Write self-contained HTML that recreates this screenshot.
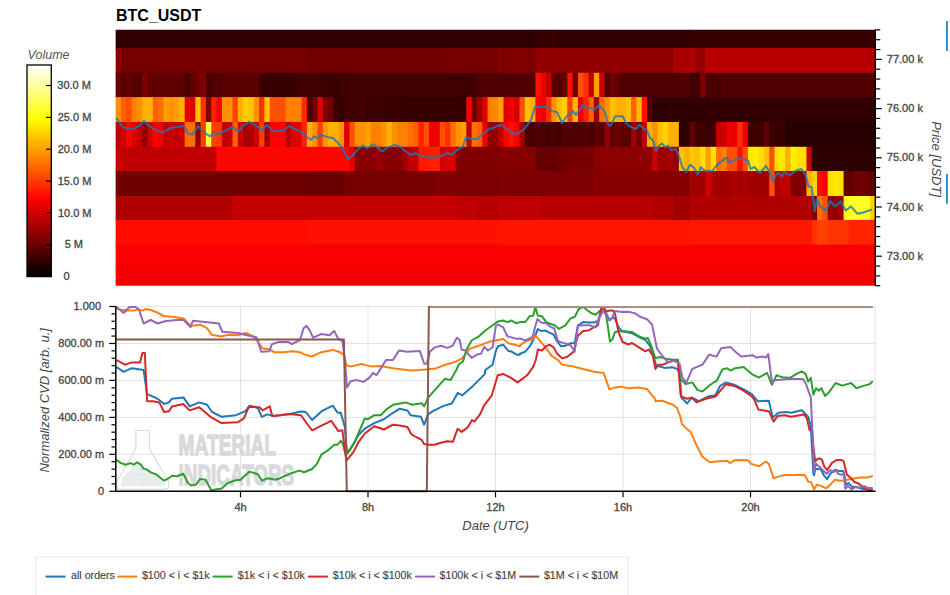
<!DOCTYPE html><html><head><meta charset="utf-8"><style>html,body{margin:0;padding:0;background:#fff;width:950px;height:595px;overflow:hidden}svg{display:block}text{font-family:"Liberation Sans",sans-serif}.lb{stroke:#444;stroke-width:0.3px}.lg{stroke:#444;stroke-width:0.15px}</style></head><body>
<svg width="950" height="595" viewBox="0 0 950 595">
<defs><linearGradient id="hot" x1="0" y1="1" x2="0" y2="0"><stop offset="0" stop-color="#000"/><stop offset="0.365" stop-color="#f00"/><stop offset="0.746" stop-color="#ff0"/><stop offset="1" stop-color="#fff"/></linearGradient>
<clipPath id="hc2"><rect x="115.1" y="29.5" width="760.2" height="256.2"/></clipPath><clipPath id="hc"><rect x="115.5" y="29.5" width="760" height="256.2"/></clipPath><clipPath id="pc"><rect x="115" y="306.1" width="760.3" height="187"/></clipPath></defs>
<text x="116" y="20.7" font-size="16" font-weight="bold" fill="#000">BTC_USDT</text>
<g clip-path="url(#hc2)">
<rect x="115.60" y="29.50" width="420.81" height="19.50" fill="#300000"/>
<rect x="535.41" y="29.50" width="22.26" height="19.50" fill="#380000"/>
<rect x="556.66" y="29.50" width="133.85" height="19.50" fill="#300000"/>
<rect x="689.51" y="29.50" width="186.99" height="19.50" fill="#380000"/>
<rect x="115.60" y="48.00" width="6.31" height="25.80" fill="#900000"/>
<rect x="120.91" y="48.00" width="186.99" height="25.80" fill="#760000"/>
<rect x="306.90" y="48.00" width="139.16" height="25.80" fill="#720000"/>
<rect x="445.07" y="48.00" width="54.14" height="25.80" fill="#780000"/>
<rect x="498.21" y="48.00" width="38.20" height="25.80" fill="#800000"/>
<rect x="535.41" y="48.00" width="139.16" height="25.80" fill="#900000"/>
<rect x="673.57" y="48.00" width="16.94" height="25.80" fill="#a80000"/>
<rect x="689.51" y="48.00" width="6.31" height="25.80" fill="#b00000"/>
<rect x="694.83" y="48.00" width="11.63" height="25.80" fill="#980000"/>
<rect x="705.45" y="48.00" width="171.05" height="25.80" fill="#b80000"/>
<rect x="115.60" y="72.80" width="6.31" height="25.30" fill="#680000"/>
<rect x="120.91" y="72.80" width="6.31" height="25.30" fill="#580000"/>
<rect x="126.23" y="72.80" width="6.31" height="25.30" fill="#600000"/>
<rect x="131.54" y="72.80" width="6.31" height="25.30" fill="#580000"/>
<rect x="136.86" y="72.80" width="6.31" height="25.30" fill="#500000"/>
<rect x="142.17" y="72.80" width="6.31" height="25.30" fill="#800000"/>
<rect x="147.48" y="72.80" width="38.20" height="25.30" fill="#600000"/>
<rect x="184.68" y="72.80" width="6.31" height="25.30" fill="#480000"/>
<rect x="190.00" y="72.80" width="6.31" height="25.30" fill="#600000"/>
<rect x="195.31" y="72.80" width="6.31" height="25.30" fill="#700000"/>
<rect x="200.62" y="72.80" width="6.31" height="25.30" fill="#800000"/>
<rect x="205.94" y="72.80" width="6.31" height="25.30" fill="#480000"/>
<rect x="211.25" y="72.80" width="11.63" height="25.30" fill="#500000"/>
<rect x="221.88" y="72.80" width="38.20" height="25.30" fill="#5a0000"/>
<rect x="259.08" y="72.80" width="38.20" height="25.30" fill="#380000"/>
<rect x="296.28" y="72.80" width="27.57" height="25.30" fill="#400000"/>
<rect x="322.85" y="72.80" width="16.94" height="25.30" fill="#380000"/>
<rect x="338.79" y="72.80" width="139.16" height="25.30" fill="#400000"/>
<rect x="476.95" y="72.80" width="59.45" height="25.30" fill="#500000"/>
<rect x="535.41" y="72.80" width="6.31" height="25.30" fill="#ff1000"/>
<rect x="540.72" y="72.80" width="6.31" height="25.30" fill="#ee0000"/>
<rect x="546.03" y="72.80" width="6.31" height="25.30" fill="#c00000"/>
<rect x="551.35" y="72.80" width="6.31" height="25.30" fill="#600000"/>
<rect x="556.66" y="72.80" width="6.31" height="25.30" fill="#500000"/>
<rect x="561.98" y="72.80" width="6.31" height="25.30" fill="#600000"/>
<rect x="567.29" y="72.80" width="6.31" height="25.30" fill="#ff1000"/>
<rect x="572.60" y="72.80" width="6.31" height="25.30" fill="#700000"/>
<rect x="577.92" y="72.80" width="6.31" height="25.30" fill="#ff5000"/>
<rect x="583.23" y="72.80" width="6.31" height="25.30" fill="#ff3000"/>
<rect x="588.55" y="72.80" width="6.31" height="25.30" fill="#c00000"/>
<rect x="593.86" y="72.80" width="6.31" height="25.30" fill="#ffa000"/>
<rect x="599.17" y="72.80" width="6.31" height="25.30" fill="#d00000"/>
<rect x="604.49" y="72.80" width="6.31" height="25.30" fill="#500000"/>
<rect x="609.80" y="72.80" width="6.31" height="25.30" fill="#700000"/>
<rect x="615.12" y="72.80" width="6.31" height="25.30" fill="#600000"/>
<rect x="620.43" y="72.80" width="70.08" height="25.30" fill="#500000"/>
<rect x="689.51" y="72.80" width="11.63" height="25.30" fill="#400000"/>
<rect x="700.14" y="72.80" width="6.31" height="25.30" fill="#800000"/>
<rect x="705.45" y="72.80" width="16.94" height="25.30" fill="#480000"/>
<rect x="721.40" y="72.80" width="155.11" height="25.30" fill="#500000"/>
<rect x="115.60" y="97.10" width="6.31" height="25.90" fill="#ff9000"/>
<rect x="120.91" y="97.10" width="6.31" height="25.90" fill="#ff6000"/>
<rect x="126.23" y="97.10" width="6.31" height="25.90" fill="#ff5000"/>
<rect x="131.54" y="97.10" width="6.31" height="25.90" fill="#ff8000"/>
<rect x="136.86" y="97.10" width="6.31" height="25.90" fill="#ff9000"/>
<rect x="142.17" y="97.10" width="11.63" height="25.90" fill="#ffb000"/>
<rect x="152.80" y="97.10" width="6.31" height="25.90" fill="#ff6000"/>
<rect x="158.11" y="97.10" width="6.31" height="25.90" fill="#ff7000"/>
<rect x="163.43" y="97.10" width="6.31" height="25.90" fill="#ffa000"/>
<rect x="168.74" y="97.10" width="6.31" height="25.90" fill="#ff9000"/>
<rect x="174.05" y="97.10" width="6.31" height="25.90" fill="#ffa000"/>
<rect x="179.37" y="97.10" width="6.31" height="25.90" fill="#ffb000"/>
<rect x="184.68" y="97.10" width="6.31" height="25.90" fill="#e80000"/>
<rect x="190.00" y="97.10" width="6.31" height="25.90" fill="#e00000"/>
<rect x="195.31" y="97.10" width="6.31" height="25.90" fill="#ffc000"/>
<rect x="200.62" y="97.10" width="6.31" height="25.90" fill="#ff3000"/>
<rect x="205.94" y="97.10" width="6.31" height="25.90" fill="#800000"/>
<rect x="211.25" y="97.10" width="6.31" height="25.90" fill="#ff2000"/>
<rect x="216.57" y="97.10" width="6.31" height="25.90" fill="#f00000"/>
<rect x="221.88" y="97.10" width="11.63" height="25.90" fill="#ff9000"/>
<rect x="232.51" y="97.10" width="6.31" height="25.90" fill="#ff4000"/>
<rect x="237.82" y="97.10" width="6.31" height="25.90" fill="#ffb000"/>
<rect x="243.14" y="97.10" width="6.31" height="25.90" fill="#ffd000"/>
<rect x="248.45" y="97.10" width="6.31" height="25.90" fill="#ffc000"/>
<rect x="253.76" y="97.10" width="6.31" height="25.90" fill="#ff9000"/>
<rect x="259.08" y="97.10" width="6.31" height="25.90" fill="#ff3000"/>
<rect x="264.39" y="97.10" width="6.31" height="25.90" fill="#ffc000"/>
<rect x="269.71" y="97.10" width="16.94" height="25.90" fill="#ff5000"/>
<rect x="285.65" y="97.10" width="16.94" height="25.90" fill="#ff8000"/>
<rect x="301.59" y="97.10" width="6.31" height="25.90" fill="#ff2800"/>
<rect x="306.90" y="97.10" width="6.31" height="25.90" fill="#500000"/>
<rect x="312.22" y="97.10" width="6.31" height="25.90" fill="#700000"/>
<rect x="317.53" y="97.10" width="6.31" height="25.90" fill="#e00000"/>
<rect x="322.85" y="97.10" width="6.31" height="25.90" fill="#800000"/>
<rect x="328.16" y="97.10" width="6.31" height="25.90" fill="#700000"/>
<rect x="333.47" y="97.10" width="6.31" height="25.90" fill="#3c0000"/>
<rect x="338.79" y="97.10" width="6.31" height="25.90" fill="#380000"/>
<rect x="344.10" y="97.10" width="11.63" height="25.90" fill="#420000"/>
<rect x="354.73" y="97.10" width="6.31" height="25.90" fill="#3c0000"/>
<rect x="360.04" y="97.10" width="6.31" height="25.90" fill="#480000"/>
<rect x="365.36" y="97.10" width="22.26" height="25.90" fill="#3c0000"/>
<rect x="386.61" y="97.10" width="16.94" height="25.90" fill="#3a0000"/>
<rect x="402.56" y="97.10" width="54.14" height="25.90" fill="#360000"/>
<rect x="455.70" y="97.10" width="11.63" height="25.90" fill="#3a0000"/>
<rect x="466.32" y="97.10" width="6.31" height="25.90" fill="#ff0000"/>
<rect x="471.64" y="97.10" width="6.31" height="25.90" fill="#700000"/>
<rect x="476.95" y="97.10" width="6.31" height="25.90" fill="#a00000"/>
<rect x="482.27" y="97.10" width="6.31" height="25.90" fill="#e00000"/>
<rect x="487.58" y="97.10" width="6.31" height="25.90" fill="#ff8000"/>
<rect x="492.89" y="97.10" width="6.31" height="25.90" fill="#ff8800"/>
<rect x="498.21" y="97.10" width="6.31" height="25.90" fill="#ffa000"/>
<rect x="503.52" y="97.10" width="6.31" height="25.90" fill="#e00000"/>
<rect x="508.84" y="97.10" width="6.31" height="25.90" fill="#f00000"/>
<rect x="514.15" y="97.10" width="6.31" height="25.90" fill="#d00000"/>
<rect x="519.46" y="97.10" width="6.31" height="25.90" fill="#ff5000"/>
<rect x="524.78" y="97.10" width="6.31" height="25.90" fill="#ffc000"/>
<rect x="530.09" y="97.10" width="6.31" height="25.90" fill="#ffb000"/>
<rect x="535.41" y="97.10" width="6.31" height="25.90" fill="#ff0000"/>
<rect x="540.72" y="97.10" width="6.31" height="25.90" fill="#f00000"/>
<rect x="546.03" y="97.10" width="6.31" height="25.90" fill="#ff3000"/>
<rect x="551.35" y="97.10" width="6.31" height="25.90" fill="#ff9000"/>
<rect x="556.66" y="97.10" width="6.31" height="25.90" fill="#ffc000"/>
<rect x="561.98" y="97.10" width="6.31" height="25.90" fill="#ffd000"/>
<rect x="567.29" y="97.10" width="6.31" height="25.90" fill="#ff4000"/>
<rect x="572.60" y="97.10" width="6.31" height="25.90" fill="#ffb800"/>
<rect x="577.92" y="97.10" width="6.31" height="25.90" fill="#e80000"/>
<rect x="583.23" y="97.10" width="6.31" height="25.90" fill="#ff2000"/>
<rect x="588.55" y="97.10" width="6.31" height="25.90" fill="#ff6000"/>
<rect x="593.86" y="97.10" width="6.31" height="25.90" fill="#a00000"/>
<rect x="599.17" y="97.10" width="6.31" height="25.90" fill="#ff7000"/>
<rect x="604.49" y="97.10" width="6.31" height="25.90" fill="#ff9000"/>
<rect x="609.80" y="97.10" width="6.31" height="25.90" fill="#ffc000"/>
<rect x="615.12" y="97.10" width="11.63" height="25.90" fill="#ffb000"/>
<rect x="625.74" y="97.10" width="6.31" height="25.90" fill="#ffc000"/>
<rect x="631.06" y="97.10" width="6.31" height="25.90" fill="#ff6000"/>
<rect x="636.37" y="97.10" width="6.31" height="25.90" fill="#ffb800"/>
<rect x="641.69" y="97.10" width="6.31" height="25.90" fill="#ff1000"/>
<rect x="647.00" y="97.10" width="6.31" height="25.90" fill="#500000"/>
<rect x="652.31" y="97.10" width="16.94" height="25.90" fill="#300000"/>
<rect x="668.26" y="97.10" width="6.31" height="25.90" fill="#380000"/>
<rect x="673.57" y="97.10" width="16.94" height="25.90" fill="#300000"/>
<rect x="689.51" y="97.10" width="186.99" height="25.90" fill="#330000"/>
<rect x="115.60" y="122.00" width="6.31" height="25.80" fill="#c00000"/>
<rect x="120.91" y="122.00" width="6.31" height="25.80" fill="#d00000"/>
<rect x="126.23" y="122.00" width="6.31" height="25.80" fill="#ff0000"/>
<rect x="131.54" y="122.00" width="6.31" height="25.80" fill="#e00000"/>
<rect x="136.86" y="122.00" width="6.31" height="25.80" fill="#c00000"/>
<rect x="142.17" y="122.00" width="6.31" height="25.80" fill="#900000"/>
<rect x="147.48" y="122.00" width="6.31" height="25.80" fill="#d00000"/>
<rect x="152.80" y="122.00" width="6.31" height="25.80" fill="#ff0000"/>
<rect x="158.11" y="122.00" width="6.31" height="25.80" fill="#f00000"/>
<rect x="163.43" y="122.00" width="6.31" height="25.80" fill="#c00000"/>
<rect x="168.74" y="122.00" width="6.31" height="25.80" fill="#d00000"/>
<rect x="174.05" y="122.00" width="6.31" height="25.80" fill="#c00000"/>
<rect x="179.37" y="122.00" width="6.31" height="25.80" fill="#d00000"/>
<rect x="184.68" y="122.00" width="11.63" height="25.80" fill="#ff7000"/>
<rect x="195.31" y="122.00" width="6.31" height="25.80" fill="#900000"/>
<rect x="200.62" y="122.00" width="6.31" height="25.80" fill="#ff4000"/>
<rect x="205.94" y="122.00" width="6.31" height="25.80" fill="#ffff40"/>
<rect x="211.25" y="122.00" width="6.31" height="25.80" fill="#ff4000"/>
<rect x="216.57" y="122.00" width="6.31" height="25.80" fill="#ff3800"/>
<rect x="221.88" y="122.00" width="6.31" height="25.80" fill="#c00000"/>
<rect x="227.19" y="122.00" width="6.31" height="25.80" fill="#c80000"/>
<rect x="232.51" y="122.00" width="6.31" height="25.80" fill="#ff6000"/>
<rect x="237.82" y="122.00" width="6.31" height="25.80" fill="#d00000"/>
<rect x="243.14" y="122.00" width="11.63" height="25.80" fill="#a80000"/>
<rect x="253.76" y="122.00" width="6.31" height="25.80" fill="#d00000"/>
<rect x="259.08" y="122.00" width="6.31" height="25.80" fill="#ff4000"/>
<rect x="264.39" y="122.00" width="6.31" height="25.80" fill="#a00000"/>
<rect x="269.71" y="122.00" width="16.94" height="25.80" fill="#ff0000"/>
<rect x="285.65" y="122.00" width="6.31" height="25.80" fill="#b00000"/>
<rect x="290.96" y="122.00" width="11.63" height="25.80" fill="#e00000"/>
<rect x="301.59" y="122.00" width="6.31" height="25.80" fill="#ff2000"/>
<rect x="306.90" y="122.00" width="6.31" height="25.80" fill="#ffb000"/>
<rect x="312.22" y="122.00" width="6.31" height="25.80" fill="#ff9000"/>
<rect x="317.53" y="122.00" width="6.31" height="25.80" fill="#ff4000"/>
<rect x="322.85" y="122.00" width="6.31" height="25.80" fill="#ff9800"/>
<rect x="328.16" y="122.00" width="11.63" height="25.80" fill="#ffb000"/>
<rect x="338.79" y="122.00" width="6.31" height="25.80" fill="#ff9000"/>
<rect x="344.10" y="122.00" width="6.31" height="25.80" fill="#e00000"/>
<rect x="349.42" y="122.00" width="6.31" height="25.80" fill="#ff5000"/>
<rect x="354.73" y="122.00" width="11.63" height="25.80" fill="#ff9000"/>
<rect x="365.36" y="122.00" width="6.31" height="25.80" fill="#ffa000"/>
<rect x="370.67" y="122.00" width="11.63" height="25.80" fill="#ff8000"/>
<rect x="381.30" y="122.00" width="6.31" height="25.80" fill="#ff9000"/>
<rect x="386.61" y="122.00" width="6.31" height="25.80" fill="#ffb000"/>
<rect x="391.93" y="122.00" width="6.31" height="25.80" fill="#ff9000"/>
<rect x="397.24" y="122.00" width="11.63" height="25.80" fill="#ff8000"/>
<rect x="407.87" y="122.00" width="6.31" height="25.80" fill="#ff7000"/>
<rect x="413.18" y="122.00" width="6.31" height="25.80" fill="#ff6000"/>
<rect x="418.50" y="122.00" width="6.31" height="25.80" fill="#ff2000"/>
<rect x="423.81" y="122.00" width="6.31" height="25.80" fill="#ff5000"/>
<rect x="429.13" y="122.00" width="11.63" height="25.80" fill="#ee0000"/>
<rect x="439.75" y="122.00" width="6.31" height="25.80" fill="#ff5000"/>
<rect x="445.07" y="122.00" width="6.31" height="25.80" fill="#ff3000"/>
<rect x="450.38" y="122.00" width="6.31" height="25.80" fill="#ff7000"/>
<rect x="455.70" y="122.00" width="6.31" height="25.80" fill="#ff9000"/>
<rect x="461.01" y="122.00" width="6.31" height="25.80" fill="#ffa000"/>
<rect x="466.32" y="122.00" width="6.31" height="25.80" fill="#c00000"/>
<rect x="471.64" y="122.00" width="6.31" height="25.80" fill="#ff7000"/>
<rect x="476.95" y="122.00" width="6.31" height="25.80" fill="#ff6000"/>
<rect x="482.27" y="122.00" width="6.31" height="25.80" fill="#ee0000"/>
<rect x="487.58" y="122.00" width="11.63" height="25.80" fill="#900000"/>
<rect x="498.21" y="122.00" width="6.31" height="25.80" fill="#c00000"/>
<rect x="503.52" y="122.00" width="6.31" height="25.80" fill="#ff0000"/>
<rect x="508.84" y="122.00" width="6.31" height="25.80" fill="#ff1000"/>
<rect x="514.15" y="122.00" width="6.31" height="25.80" fill="#ff0000"/>
<rect x="519.46" y="122.00" width="6.31" height="25.80" fill="#a00000"/>
<rect x="524.78" y="122.00" width="6.31" height="25.80" fill="#4c0000"/>
<rect x="530.09" y="122.00" width="6.31" height="25.80" fill="#440000"/>
<rect x="535.41" y="122.00" width="11.63" height="25.80" fill="#4c0000"/>
<rect x="546.03" y="122.00" width="6.31" height="25.80" fill="#440000"/>
<rect x="551.35" y="122.00" width="6.31" height="25.80" fill="#4c0000"/>
<rect x="556.66" y="122.00" width="6.31" height="25.80" fill="#460000"/>
<rect x="561.98" y="122.00" width="6.31" height="25.80" fill="#540000"/>
<rect x="567.29" y="122.00" width="16.94" height="25.80" fill="#4c0000"/>
<rect x="583.23" y="122.00" width="6.31" height="25.80" fill="#540000"/>
<rect x="588.55" y="122.00" width="6.31" height="25.80" fill="#4c0000"/>
<rect x="593.86" y="122.00" width="6.31" height="25.80" fill="#5c0000"/>
<rect x="599.17" y="122.00" width="6.31" height="25.80" fill="#540000"/>
<rect x="604.49" y="122.00" width="6.31" height="25.80" fill="#900000"/>
<rect x="609.80" y="122.00" width="6.31" height="25.80" fill="#5c0000"/>
<rect x="615.12" y="122.00" width="6.31" height="25.80" fill="#6c0000"/>
<rect x="620.43" y="122.00" width="11.63" height="25.80" fill="#5c0000"/>
<rect x="631.06" y="122.00" width="6.31" height="25.80" fill="#a00000"/>
<rect x="636.37" y="122.00" width="6.31" height="25.80" fill="#700000"/>
<rect x="641.69" y="122.00" width="6.31" height="25.80" fill="#c00000"/>
<rect x="647.00" y="122.00" width="6.31" height="25.80" fill="#ffb000"/>
<rect x="652.31" y="122.00" width="6.31" height="25.80" fill="#ff9000"/>
<rect x="657.63" y="122.00" width="6.31" height="25.80" fill="#ffc000"/>
<rect x="662.94" y="122.00" width="6.31" height="25.80" fill="#ffd000"/>
<rect x="668.26" y="122.00" width="11.63" height="25.80" fill="#ffb000"/>
<rect x="678.88" y="122.00" width="11.63" height="25.80" fill="#300000"/>
<rect x="689.51" y="122.00" width="6.31" height="25.80" fill="#600000"/>
<rect x="694.83" y="122.00" width="11.63" height="25.80" fill="#400000"/>
<rect x="705.45" y="122.00" width="6.31" height="25.80" fill="#380000"/>
<rect x="710.77" y="122.00" width="6.31" height="25.80" fill="#400000"/>
<rect x="716.08" y="122.00" width="11.63" height="25.80" fill="#c80000"/>
<rect x="726.71" y="122.00" width="6.31" height="25.80" fill="#f00000"/>
<rect x="732.02" y="122.00" width="6.31" height="25.80" fill="#e80000"/>
<rect x="737.34" y="122.00" width="6.31" height="25.80" fill="#ff3000"/>
<rect x="742.65" y="122.00" width="6.31" height="25.80" fill="#f00000"/>
<rect x="747.97" y="122.00" width="16.94" height="25.80" fill="#400000"/>
<rect x="763.91" y="122.00" width="6.31" height="25.80" fill="#600000"/>
<rect x="769.22" y="122.00" width="16.94" height="25.80" fill="#3a0000"/>
<rect x="785.16" y="122.00" width="91.34" height="25.80" fill="#260000"/>
<rect x="115.60" y="146.80" width="6.31" height="25.20" fill="#d00000"/>
<rect x="120.91" y="146.80" width="96.65" height="25.20" fill="#c00000"/>
<rect x="216.57" y="146.80" width="133.85" height="25.20" fill="#fa0800"/>
<rect x="349.42" y="146.80" width="6.31" height="25.20" fill="#e00000"/>
<rect x="354.73" y="146.80" width="22.26" height="25.20" fill="#880000"/>
<rect x="375.99" y="146.80" width="6.31" height="25.20" fill="#9a0000"/>
<rect x="381.30" y="146.80" width="22.26" height="25.20" fill="#880000"/>
<rect x="402.56" y="146.80" width="6.31" height="25.20" fill="#a00000"/>
<rect x="407.87" y="146.80" width="11.63" height="25.20" fill="#c00000"/>
<rect x="418.50" y="146.80" width="11.63" height="25.20" fill="#ff1800"/>
<rect x="429.13" y="146.80" width="11.63" height="25.20" fill="#ff2000"/>
<rect x="439.75" y="146.80" width="6.31" height="25.20" fill="#d00000"/>
<rect x="445.07" y="146.80" width="11.63" height="25.20" fill="#d80000"/>
<rect x="455.70" y="146.80" width="6.31" height="25.20" fill="#880000"/>
<rect x="461.01" y="146.80" width="38.20" height="25.20" fill="#800000"/>
<rect x="498.21" y="146.80" width="38.20" height="25.20" fill="#860000"/>
<rect x="535.41" y="146.80" width="22.26" height="25.20" fill="#660000"/>
<rect x="556.66" y="146.80" width="11.63" height="25.20" fill="#700000"/>
<rect x="567.29" y="146.80" width="27.57" height="25.20" fill="#780000"/>
<rect x="593.86" y="146.80" width="54.14" height="25.20" fill="#8c0000"/>
<rect x="647.00" y="146.80" width="6.31" height="25.20" fill="#900000"/>
<rect x="652.31" y="146.80" width="6.31" height="25.20" fill="#c80000"/>
<rect x="657.63" y="146.80" width="11.63" height="25.20" fill="#a00000"/>
<rect x="668.26" y="146.80" width="6.31" height="25.20" fill="#a80000"/>
<rect x="673.57" y="146.80" width="6.31" height="25.20" fill="#900000"/>
<rect x="678.88" y="146.80" width="6.31" height="25.20" fill="#ffc000"/>
<rect x="684.20" y="146.80" width="6.31" height="25.20" fill="#ffb000"/>
<rect x="689.51" y="146.80" width="6.31" height="25.20" fill="#ffc800"/>
<rect x="694.83" y="146.80" width="6.31" height="25.20" fill="#ffc000"/>
<rect x="700.14" y="146.80" width="6.31" height="25.20" fill="#ffe000"/>
<rect x="705.45" y="146.80" width="6.31" height="25.20" fill="#ffa000"/>
<rect x="710.77" y="146.80" width="6.31" height="25.20" fill="#ffe000"/>
<rect x="716.08" y="146.80" width="6.31" height="25.20" fill="#ff7000"/>
<rect x="721.40" y="146.80" width="6.31" height="25.20" fill="#ff8000"/>
<rect x="726.71" y="146.80" width="11.63" height="25.20" fill="#ff5000"/>
<rect x="737.34" y="146.80" width="6.31" height="25.20" fill="#ff1000"/>
<rect x="742.65" y="146.80" width="6.31" height="25.20" fill="#ff5000"/>
<rect x="747.97" y="146.80" width="6.31" height="25.20" fill="#ffe800"/>
<rect x="753.28" y="146.80" width="6.31" height="25.20" fill="#fff000"/>
<rect x="758.59" y="146.80" width="6.31" height="25.20" fill="#ffe000"/>
<rect x="763.91" y="146.80" width="6.31" height="25.20" fill="#ffc000"/>
<rect x="769.22" y="146.80" width="6.31" height="25.20" fill="#ff5000"/>
<rect x="774.54" y="146.80" width="6.31" height="25.20" fill="#ffe000"/>
<rect x="779.85" y="146.80" width="6.31" height="25.20" fill="#ffe800"/>
<rect x="785.16" y="146.80" width="6.31" height="25.20" fill="#ffb000"/>
<rect x="790.48" y="146.80" width="6.31" height="25.20" fill="#fff000"/>
<rect x="795.79" y="146.80" width="11.63" height="25.20" fill="#ffe000"/>
<rect x="806.42" y="146.80" width="6.31" height="25.20" fill="#d00000"/>
<rect x="811.73" y="146.80" width="64.77" height="25.20" fill="#2c0000"/>
<rect x="115.60" y="171.00" width="6.31" height="26.00" fill="#780000"/>
<rect x="120.91" y="171.00" width="186.99" height="26.00" fill="#700000"/>
<rect x="306.90" y="171.00" width="38.20" height="26.00" fill="#680000"/>
<rect x="344.10" y="171.00" width="91.34" height="26.00" fill="#780000"/>
<rect x="434.44" y="171.00" width="64.77" height="26.00" fill="#7c0000"/>
<rect x="498.21" y="171.00" width="96.65" height="26.00" fill="#7e0000"/>
<rect x="593.86" y="171.00" width="96.65" height="26.00" fill="#860000"/>
<rect x="689.51" y="171.00" width="16.94" height="26.00" fill="#a00000"/>
<rect x="705.45" y="171.00" width="6.31" height="26.00" fill="#d00000"/>
<rect x="710.77" y="171.00" width="6.31" height="26.00" fill="#b00000"/>
<rect x="716.08" y="171.00" width="16.94" height="26.00" fill="#a00000"/>
<rect x="732.02" y="171.00" width="6.31" height="26.00" fill="#b00000"/>
<rect x="737.34" y="171.00" width="6.31" height="26.00" fill="#a00000"/>
<rect x="742.65" y="171.00" width="6.31" height="26.00" fill="#b00000"/>
<rect x="747.97" y="171.00" width="22.26" height="26.00" fill="#a00000"/>
<rect x="769.22" y="171.00" width="6.31" height="26.00" fill="#ff5000"/>
<rect x="774.54" y="171.00" width="6.31" height="26.00" fill="#b00000"/>
<rect x="779.85" y="171.00" width="11.63" height="26.00" fill="#c00000"/>
<rect x="790.48" y="171.00" width="16.94" height="26.00" fill="#800000"/>
<rect x="806.42" y="171.00" width="6.31" height="26.00" fill="#ffb000"/>
<rect x="811.73" y="171.00" width="6.31" height="26.00" fill="#ffd000"/>
<rect x="817.05" y="171.00" width="6.31" height="26.00" fill="#ff1000"/>
<rect x="822.36" y="171.00" width="6.31" height="26.00" fill="#ff0000"/>
<rect x="827.68" y="171.00" width="6.31" height="26.00" fill="#ffe000"/>
<rect x="832.99" y="171.00" width="6.31" height="26.00" fill="#ffe800"/>
<rect x="838.30" y="171.00" width="6.31" height="26.00" fill="#ffe000"/>
<rect x="843.62" y="171.00" width="6.31" height="26.00" fill="#5a0000"/>
<rect x="848.93" y="171.00" width="6.31" height="26.00" fill="#600000"/>
<rect x="854.25" y="171.00" width="11.63" height="26.00" fill="#700000"/>
<rect x="864.87" y="171.00" width="6.31" height="26.00" fill="#680000"/>
<rect x="870.19" y="171.00" width="6.31" height="26.00" fill="#600000"/>
<rect x="115.60" y="196.00" width="117.91" height="24.90" fill="#b00000"/>
<rect x="232.51" y="196.00" width="224.19" height="24.90" fill="#c40000"/>
<rect x="455.70" y="196.00" width="22.26" height="24.90" fill="#c00000"/>
<rect x="476.95" y="196.00" width="22.26" height="24.90" fill="#b80000"/>
<rect x="498.21" y="196.00" width="43.51" height="24.90" fill="#c00000"/>
<rect x="540.72" y="196.00" width="112.59" height="24.90" fill="#b80000"/>
<rect x="652.31" y="196.00" width="22.26" height="24.90" fill="#b00000"/>
<rect x="673.57" y="196.00" width="16.94" height="24.90" fill="#a00000"/>
<rect x="689.51" y="196.00" width="123.22" height="24.90" fill="#b00000"/>
<rect x="811.73" y="196.00" width="6.31" height="24.90" fill="#800000"/>
<rect x="817.05" y="196.00" width="6.31" height="24.90" fill="#ff7000"/>
<rect x="822.36" y="196.00" width="6.31" height="24.90" fill="#ff5000"/>
<rect x="827.68" y="196.00" width="11.63" height="24.90" fill="#900000"/>
<rect x="838.30" y="196.00" width="6.31" height="24.90" fill="#a00000"/>
<rect x="843.62" y="196.00" width="27.57" height="24.90" fill="#ffff20"/>
<rect x="870.19" y="196.00" width="6.31" height="24.90" fill="#ffd000"/>
<rect x="115.60" y="219.90" width="192.30" height="25.70" fill="#ff0c00"/>
<rect x="306.90" y="219.90" width="192.30" height="25.70" fill="#ff1000"/>
<rect x="498.21" y="219.90" width="192.30" height="25.70" fill="#ff1400"/>
<rect x="689.51" y="219.90" width="123.22" height="25.70" fill="#ff1800"/>
<rect x="811.73" y="219.90" width="6.31" height="25.70" fill="#ff3000"/>
<rect x="817.05" y="219.90" width="11.63" height="25.70" fill="#ff4000"/>
<rect x="827.68" y="219.90" width="22.26" height="25.70" fill="#ff3400"/>
<rect x="848.93" y="219.90" width="27.57" height="25.70" fill="#ff2400"/>
<rect x="115.60" y="244.60" width="760.90" height="25.60" fill="#fa0000"/>
<rect x="115.60" y="269.20" width="760.90" height="17.50" fill="#f40000"/>
</g>
<polyline clip-path="url(#hc)" points="116.0,117.6 121.0,125.0 125.0,128.0 133.0,129.0 139.0,126.0 144.0,121.0 148.0,125.0 155.0,130.0 163.0,132.4 171.0,128.0 177.0,127.0 184.0,126.0 188.0,134.0 193.0,134.4 198.0,126.0 202.0,130.4 205.0,133.0 210.0,136.4 214.0,132.0 217.0,134.4 225.0,131.0 233.0,127.0 238.0,131.6 243.0,126.0 249.0,121.6 255.0,125.0 262.0,130.4 267.0,125.0 273.0,131.0 283.0,131.0 289.0,126.0 296.0,129.6 303.0,133.0 307.0,137.0 311.0,140.0 314.0,136.4 317.0,138.0 321.0,135.0 327.0,137.0 333.0,138.0 338.0,143.0 343.0,149.0 348.0,159.0 353.0,155.0 358.0,149.0 363.0,145.6 367.0,148.4 373.0,144.4 377.0,147.0 382.0,151.6 387.0,147.6 395.0,145.0 401.0,147.0 405.0,151.0 411.0,155.0 415.0,153.0 423.0,157.0 431.0,157.6 439.0,157.0 447.0,153.0 452.0,154.4 457.0,150.0 463.0,146.4 466.0,137.0 471.0,139.0 477.0,139.0 483.0,134.0 489.0,129.0 493.0,128.0 497.0,126.0 502.0,125.0 509.0,131.0 515.0,134.0 519.0,133.0 525.0,128.0 531.0,120.0 535.0,107.0 541.0,107.0 547.0,107.0 551.0,111.0 557.0,112.0 562.0,123.0 567.0,116.0 573.0,111.0 576.0,115.0 583.0,105.0 587.0,108.0 591.0,108.0 594.0,110.0 599.0,105.0 600.0,106.3 603.0,109.4 605.3,113.2 607.6,123.0 609.8,126.0 612.1,123.0 615.1,116.2 618.9,116.2 622.7,116.2 625.7,123.0 630.3,126.8 636.3,129.0 639.3,124.5 643.9,129.0 646.9,129.8 649.9,138.1 653.0,140.4 656.0,151.0 659.0,145.7 662.0,143.4 665.1,147.2 668.1,145.7 671.1,150.2 675.6,148.7 678.7,155.5 682.5,167.6 686.2,172.2 690.0,164.6 693.8,167.6 697.6,174.4 700.0,170.6 700.6,167.0 703.7,170.1 706.8,171.1 712.0,171.1 717.2,164.9 722.4,160.7 726.5,157.6 729.7,162.8 734.8,159.7 741.1,158.7 745.2,159.7 748.3,160.7 750.4,169.0 754.5,167.0 759.7,173.2 766.0,165.9 770.1,173.2 773.2,181.5 775.3,175.3 778.4,173.2 781.5,176.3 784.6,172.1 789.8,175.3 795.0,171.1 801.2,169.0 805.4,174.2 808.5,186.7 811.6,186.7 814.7,211.5 816.8,199.1 819.9,206.4 826.1,210.5 830.2,201.2 835.4,206.4 840.6,201.2 845.8,210.5 851.0,206.4 857.2,213.6 863.4,212.6 872.1,209.5" fill="none" stroke="rgba(31,119,180,0.8)" stroke-width="2.1" stroke-linejoin="round"/>
<g stroke="#000">
<line x1="875.3" y1="29.5" x2="875.3" y2="285.7" stroke-width="1.4"/>
<line x1="875.3" y1="285.72" x2="880.30" y2="285.72" stroke-width="1.2"/>
<line x1="875.3" y1="275.88" x2="880.30" y2="275.88" stroke-width="1.2"/>
<line x1="875.3" y1="266.04" x2="880.30" y2="266.04" stroke-width="1.2"/>
<line x1="875.3" y1="256.20" x2="881.80" y2="256.20" stroke-width="1.2"/>
<line x1="875.3" y1="246.36" x2="880.30" y2="246.36" stroke-width="1.2"/>
<line x1="875.3" y1="236.52" x2="880.30" y2="236.52" stroke-width="1.2"/>
<line x1="875.3" y1="226.68" x2="880.30" y2="226.68" stroke-width="1.2"/>
<line x1="875.3" y1="216.84" x2="880.30" y2="216.84" stroke-width="1.2"/>
<line x1="875.3" y1="207.00" x2="881.80" y2="207.00" stroke-width="1.2"/>
<line x1="875.3" y1="197.16" x2="880.30" y2="197.16" stroke-width="1.2"/>
<line x1="875.3" y1="187.32" x2="880.30" y2="187.32" stroke-width="1.2"/>
<line x1="875.3" y1="177.48" x2="880.30" y2="177.48" stroke-width="1.2"/>
<line x1="875.3" y1="167.64" x2="880.30" y2="167.64" stroke-width="1.2"/>
<line x1="875.3" y1="157.80" x2="881.80" y2="157.80" stroke-width="1.2"/>
<line x1="875.3" y1="147.96" x2="880.30" y2="147.96" stroke-width="1.2"/>
<line x1="875.3" y1="138.12" x2="880.30" y2="138.12" stroke-width="1.2"/>
<line x1="875.3" y1="128.28" x2="880.30" y2="128.28" stroke-width="1.2"/>
<line x1="875.3" y1="118.44" x2="880.30" y2="118.44" stroke-width="1.2"/>
<line x1="875.3" y1="108.60" x2="881.80" y2="108.60" stroke-width="1.2"/>
<line x1="875.3" y1="98.76" x2="880.30" y2="98.76" stroke-width="1.2"/>
<line x1="875.3" y1="88.92" x2="880.30" y2="88.92" stroke-width="1.2"/>
<line x1="875.3" y1="79.08" x2="880.30" y2="79.08" stroke-width="1.2"/>
<line x1="875.3" y1="69.24" x2="880.30" y2="69.24" stroke-width="1.2"/>
<line x1="875.3" y1="59.40" x2="881.80" y2="59.40" stroke-width="1.2"/>
<line x1="875.3" y1="49.56" x2="880.30" y2="49.56" stroke-width="1.2"/>
<line x1="875.3" y1="39.72" x2="880.30" y2="39.72" stroke-width="1.2"/>
<line x1="875.3" y1="29.88" x2="880.30" y2="29.88" stroke-width="1.2"/>
</g>
<text class="lb" x="886.8" y="63.0" font-size="11" fill="#444">77.00 k</text>
<text class="lb" x="886.8" y="112.2" font-size="11" fill="#444">76.00 k</text>
<text class="lb" x="886.8" y="161.4" font-size="11" fill="#444">75.00 k</text>
<text class="lb" x="886.8" y="210.6" font-size="11" fill="#444">74.00 k</text>
<text class="lb" x="886.8" y="259.8" font-size="11" fill="#444">73.00 k</text>
<text transform="translate(931.5,121.2) rotate(90)" font-size="13" font-style="italic" fill="#444">Price [USDT]</text>
<rect x="946" y="21" width="2" height="30" fill="#2e9bd0"/><rect x="946" y="173.9" width="2" height="29.8" fill="#2e9bd0"/>
<rect x="27" y="65.0" width="24.3" height="211.60000000000002" fill="url(#hot)" stroke="#000" stroke-width="1.3"/>
<line x1="46" y1="85.5" x2="51" y2="85.5" stroke="#000" stroke-width="1.2"/>
<text class="lb" x="57.3" y="89.1" font-size="11" fill="#444">30.0 M</text>
<line x1="46" y1="117.4" x2="51" y2="117.4" stroke="#000" stroke-width="1.2"/>
<text class="lb" x="57.7" y="121.0" font-size="11" fill="#444">25.0 M</text>
<line x1="46" y1="149.2" x2="51" y2="149.2" stroke="#000" stroke-width="1.2"/>
<text class="lb" x="57.7" y="152.8" font-size="11" fill="#444">20.0 M</text>
<line x1="46" y1="181.1" x2="51" y2="181.1" stroke="#000" stroke-width="1.2"/>
<text class="lb" x="57.7" y="184.7" font-size="11" fill="#444">15.0 M</text>
<line x1="46" y1="212.9" x2="51" y2="212.9" stroke="#000" stroke-width="1.2"/>
<text class="lb" x="57.9" y="216.5" font-size="11" fill="#444">10.0 M</text>
<line x1="46" y1="244.8" x2="51" y2="244.8" stroke="#000" stroke-width="1.2"/>
<text class="lb" x="64.7" y="248.4" font-size="11" fill="#444">5 M</text>
<text class="lb" x="63.4" y="280.2" font-size="11" fill="#444">0</text>
<text x="27.6" y="59.4" font-size="12.5" font-style="italic" fill="#555">Volume</text>
<g stroke="#e2e2e2" stroke-width="1">
<line x1="115.8" y1="454.3" x2="875.2" y2="454.3"/>
<line x1="115.8" y1="417.4" x2="875.2" y2="417.4"/>
<line x1="115.8" y1="380.4" x2="875.2" y2="380.4"/>
<line x1="115.8" y1="343.5" x2="875.2" y2="343.5"/>
<line x1="115.8" y1="306.5" x2="875.2" y2="306.5"/>
<line x1="240.5" y1="306.5" x2="240.5" y2="491.3"/>
<line x1="368.0" y1="306.5" x2="368.0" y2="491.3"/>
<line x1="495.5" y1="306.5" x2="495.5" y2="491.3"/>
<line x1="623.0" y1="306.5" x2="623.0" y2="491.3"/>
<line x1="750.5" y1="306.5" x2="750.5" y2="491.3"/>
<line x1="875.2" y1="306.5" x2="875.2" y2="491.3"/>
</g>
<g opacity="1">
<path d="M135.9,430.5 L149.4,430.5 L149.4,448.3 L168.2,481 Q171,489.3 164,489.3 L121,489.3 Q114.5,489.3 117.3,481 L135.9,448.3 Z" fill="none" stroke="#dcdcdc" stroke-width="1.2"/>
<path d="M121.4,486.3 Q120.5,480 125,475 L134,465.5 Q138,462 142,465 L163,481 Q168,486.3 161,486.3 Z" fill="#e8edeb"/>
<g stroke="#dde0de" stroke-width="0.8"><line x1="138" y1="469.5" x2="147" y2="469.5"/><line x1="140" y1="474.5" x2="146" y2="474.5"/><line x1="138" y1="479.5" x2="147" y2="479.5"/><line x1="140" y1="484" x2="146" y2="484"/></g>
<text transform="translate(178.6,454.7) scale(0.665,1)" font-size="28.8" font-weight="bold" fill="#d8d9da" stroke="#d8d9da" stroke-width="1.3">MATERIAL</text>
<text transform="translate(178.6,485.3) scale(0.655,1)" font-size="28.8" font-weight="bold" fill="#d8d9da" stroke="#d8d9da" stroke-width="1.3">INDICATORS</text>
</g>
<polyline clip-path="url(#pc)" points="116.5,367.0 123.6,371.8 131.8,368.2 143.6,370.1 147.1,394.1 155.4,397.6 159.3,400.0 164.0,404.0 168.9,402.4 171.8,398.8 183.6,397.6 189.6,406.4 199.2,402.4 207.0,404.7 212.0,412.0 221.6,416.8 236.0,415.2 245.5,411.2 249.5,405.6 253.0,406.4 257.8,408.0 261.8,416.8 267.4,414.4 273.8,416.0 289.7,414.0 300.9,411.5 305.7,412.0 312.1,420.0 321.6,411.2 332.8,405.6 337.6,412.8 340.8,412.8 344.8,427.1 347.2,453.5 353.6,443.9 358.4,435.1 364.8,428.7 374.3,423.1 383.9,419.2 393.0,412.8 399.4,408.8 407.4,410.4 410.6,415.2 420.9,416.8 424.1,424.7 428.1,414.4 432.9,411.2 444.1,405.6 451.8,403.5 457.7,392.9 462.4,395.3 473.0,385.9 484.8,374.1 485.3,370.0 492.6,364.7 495.8,351.1 497.9,346.3 503.2,344.7 508.4,351.1 511.6,351.6 516.8,354.7 519.9,354.7 520.0,353.7 525.3,351.6 530.5,345.3 533.7,339.0 537.9,329.0 541.1,331.0 545.3,330.5 549.5,332.6 553.7,334.7 556.8,341.0 561.0,346.3 565.3,345.8 570.5,343.2 574.7,343.2 577.9,325.3 583.2,322.1 588.4,322.6 593.7,322.6 597.9,321.0 602.1,309.5 605.3,311.6 609.5,320.0 612.6,317.9 615.0,318.5 618.4,326.9 621.7,331.1 631.8,333.2 640.2,337.5 645.3,339.8 650.0,346.0 653.7,357.1 656.2,365.5 665.4,368.1 672.1,367.2 677.2,368.9 679.7,373.9 681.4,397.5 687.1,403.5 691.8,397.6 698.9,401.2 708.3,396.5 715.4,395.3 720.1,385.9 725.9,382.4 734.2,384.7 743.6,389.4 751.8,394.1 757.7,401.2 768.8,400.8 772.8,417.6 778.4,412.8 786.3,412.0 791.1,412.8 801.7,410.3 808.2,416.8 810.8,426.0 813.4,474.1 814.1,475.3 815.3,468.9 817.6,468.9 820.8,469.3 823.9,475.3 827.1,479.2 830.3,473.7 835.0,469.7 838.9,470.9 843.3,470.9 844.9,477.6 846.0,484.7 848.8,483.1 852.4,487.1 856.3,487.1 861.8,488.7 868.1,489.5 872.8,489.5" fill="none" stroke="#1f77b4" stroke-width="2" stroke-linejoin="round"/>
<polyline clip-path="url(#pc)" points="116.5,308.2 120.0,309.4 127.0,310.6 134.2,310.6 137.7,309.4 142.4,310.6 146.0,309.0 150.6,309.9 156.5,312.2 163.6,316.0 174.2,317.0 183.6,318.4 190.6,325.9 200.0,324.7 207.0,328.2 211.8,334.8 221.2,336.5 228.3,334.8 237.7,335.3 246.0,333.0 253.0,336.5 257.7,341.2 262.4,348.2 269.5,349.4 274.2,352.2 283.6,352.2 293.0,351.3 300.0,352.2 304.8,354.6 311.8,356.5 321.2,352.2 333.0,349.9 340.0,352.2 343.6,354.6 346.6,365.4 351.8,366.4 361.2,364.0 370.6,366.4 380.0,365.9 393.0,368.2 402.4,369.4 411.8,370.6 420.0,370.0 435.8,368.4 445.3,364.7 455.8,361.6 462.1,358.4 469.5,348.9 475.8,346.8 483.2,344.2 489.5,341.6 495.8,340.5 503.2,338.9 508.4,343.2 514.7,344.7 519.9,346.3 520.0,345.3 526.3,341.0 532.6,339.0 535.8,335.8 541.1,342.1 546.3,348.4 551.6,355.8 557.9,360.0 562.4,364.7 570.6,365.9 580.1,368.2 594.2,371.8 603.6,372.9 609.5,389.4 615.0,387.4 621.7,386.6 628.4,388.2 638.5,387.4 647.0,389.1 655.3,399.2 655.4,401.2 662.4,400.7 673.0,404.7 677.0,408.0 680.2,416.0 681.8,423.9 687.4,429.5 690.6,431.9 697.0,446.3 702.5,456.7 709.7,462.3 716.1,461.5 727.3,460.7 729.7,463.1 735.3,459.9 748.0,460.3 751.2,463.9 759.2,466.3 765.6,461.5 768.8,463.9 773.6,478.2 778.4,476.6 784.8,475.0 794.3,475.0 800.7,474.7 805.0,475.3 808.2,481.6 811.3,482.4 814.1,489.5 816.8,484.7 820.8,485.9 826.3,488.3 831.0,483.9 835.0,479.6 839.7,480.8 844.5,480.4 849.2,479.2 853.9,478.4 860.2,477.6 866.6,477.6 872.8,476.0" fill="none" stroke="#ff7f0e" stroke-width="2" stroke-linejoin="round"/>
<polyline clip-path="url(#pc)" points="116.2,459.9 121.0,463.1 125.8,464.7 130.6,463.1 133.8,464.7 137.0,462.3 141.0,464.7 143.3,468.6 146.5,469.4 151.3,472.6 156.1,474.2 160.9,478.2 164.1,480.6 168.9,478.2 172.1,475.8 176.9,476.3 183.2,473.8 188.0,483.0 191.2,485.4 196.0,484.6 200.0,479.0 205.6,479.8 211.2,490.2 221.6,488.6 228.0,483.0 234.3,480.6 240.7,479.8 245.5,475.0 249.5,471.8 253.0,472.6 257.8,474.2 261.8,480.6 268.2,478.2 275.4,479.8 280.1,478.2 289.7,473.8 299.3,470.6 304.1,472.2 312.1,469.0 316.9,463.9 321.6,454.3 328.0,450.3 334.4,444.7 337.6,444.7 341.1,440.7 343.2,444.7 345.6,455.1 348.8,451.9 355.2,440.7 358.4,433.5 364.8,418.4 368.0,419.2 374.3,415.2 380.7,415.2 387.1,408.8 393.0,404.8 405.8,402.4 412.2,404.8 421.7,403.2 424.1,406.4 428.3,397.6 436.5,388.2 444.8,378.8 450.6,380.0 456.3,370.0 459.0,364.2 463.2,361.1 466.3,350.0 471.6,340.5 478.9,336.3 485.3,330.5 490.5,326.8 497.9,321.6 503.2,320.5 507.4,322.1 511.6,320.5 515.8,323.2 519.9,322.1 520.0,322.0 525.3,322.0 529.5,316.3 533.2,315.8 535.3,307.4 537.9,315.8 542.1,316.3 546.3,322.1 551.6,324.2 554.7,325.3 559.0,328.9 565.3,325.3 570.5,318.4 574.7,316.8 578.9,308.9 583.2,306.8 587.4,310.5 591.6,313.2 595.8,314.7 598.9,311.6 602.1,309.5 605.3,311.6 607.4,323.2 610.0,341.6 612.6,339.0 615.0,331.9 621.7,331.1 631.8,331.9 640.2,337.0 646.1,338.7 647.8,337.8 651.1,345.4 655.3,358.0 660.4,357.1 665.4,358.8 673.8,359.7 678.0,359.7 680.5,379.0 685.6,384.0 692.3,382.4 697.4,389.9 702.4,391.6 709.1,385.7 715.0,381.5 716.5,381.2 722.4,369.4 727.1,368.2 730.6,370.6 735.4,368.2 743.6,367.1 751.8,374.1 758.9,377.6 767.1,372.9 771.8,384.7 776.5,375.3 783.6,377.6 790.0,377.8 796.5,373.9 801.7,371.3 805.6,373.9 808.2,381.7 810.8,377.8 813.4,394.7 816.0,388.2 818.7,390.8 821.3,388.2 825.2,396.0 829.1,392.1 835.6,383.0 842.1,385.6 851.2,383.0 856.4,388.2 864.2,385.6 869.4,384.3 872.8,381.2" fill="none" stroke="#2ca02c" stroke-width="2" stroke-linejoin="round"/>
<polyline clip-path="url(#pc)" points="116.5,360.0 124.8,364.7 131.8,362.4 140.0,362.4 142.4,353.0 144.8,353.0 147.1,401.2 153.0,401.2 159.3,402.4 164.1,412.0 168.9,411.2 172.1,406.4 183.2,404.0 189.6,410.4 199.2,407.2 210.4,416.8 221.6,423.1 237.5,422.3 243.9,418.4 248.7,407.2 253.0,407.0 259.4,407.2 262.6,410.4 269.8,406.4 272.2,416.0 280.1,415.2 289.7,414.0 300.9,415.2 307.3,424.0 312.1,430.3 320.0,426.3 331.2,420.8 338.4,431.1 342.4,430.3 346.4,460.7 353.6,451.9 358.4,442.3 364.8,433.5 374.3,426.3 383.9,429.5 393.0,424.7 399.4,425.5 407.4,427.1 411.4,434.3 417.0,437.5 421.7,439.9 424.1,443.9 428.1,444.7 434.5,444.7 440.9,442.8 447.3,441.2 452.9,441.8 457.7,428.7 461.6,431.9 468.0,427.1 472.0,420.0 474.4,421.6 480.0,414.4 484.0,405.6 491.8,395.3 497.7,375.3 503.6,374.1 510.6,377.6 517.7,382.4 527.1,375.3 533.0,367.1 535.8,360.0 537.9,349.5 542.1,350.5 545.8,346.3 549.5,344.7 553.7,347.4 556.8,353.2 562.1,358.4 567.4,356.8 573.7,351.6 577.9,335.8 583.2,331.0 588.4,330.5 593.7,327.4 597.9,325.3 601.1,308.4 603.2,306.8 606.3,311.6 609.5,310.5 612.6,310.5 615.0,313.4 618.4,331.9 622.6,342.0 628.4,344.5 631.8,342.9 638.5,347.1 645.3,351.3 648.6,349.6 652.8,355.5 655.3,368.9 658.7,364.7 662.9,364.7 668.8,362.2 673.8,360.5 678.0,362.2 680.5,394.1 681.2,396.5 687.1,398.8 691.8,397.6 696.5,402.4 705.9,398.8 715.4,396.5 725.9,384.2 734.2,385.9 743.6,390.6 751.8,396.5 754.4,400.0 758.4,409.6 768.8,411.2 773.6,421.6 777.6,416.0 784.8,415.2 791.1,416.8 803.9,414.4 806.9,418.1 809.5,429.9 812.1,431.2 813.7,450.0 815.3,461.8 816.8,459.5 819.6,458.3 822.0,459.9 824.3,466.6 827.1,470.1 829.5,466.6 832.2,462.6 836.6,460.1 841.3,459.9 843.7,461.4 845.3,468.2 846.8,474.5 850.8,478.0 854.3,482.0 857.9,483.1 861.0,485.5 864.2,487.9 868.1,490.3 872.8,490.3" fill="none" stroke="#d62728" stroke-width="2" stroke-linejoin="round"/>
<polyline clip-path="url(#pc)" points="116.5,307.0 123.6,313.0 129.5,307.0 135.4,307.0 138.9,309.4 143.6,323.5 150.6,320.0 157.7,323.5 164.8,321.2 176.5,320.0 183.6,320.0 190.6,327.0 193.0,320.7 209.5,322.4 218.9,323.5 222.4,331.8 237.7,333.0 244.8,334.8 253.0,336.5 256.5,337.2 261.2,351.8 269.5,351.3 271.8,344.2 278.9,341.9 288.3,341.9 291.8,344.2 300.0,340.0 303.6,328.2 306.6,325.9 309.9,330.6 313.0,337.6 321.2,334.1 329.5,335.3 334.2,331.0 338.2,338.8 342.4,341.2 344.8,358.8 347.1,387.5 350.6,381.2 356.5,380.0 363.6,381.9 369.5,377.6 373.0,372.9 376.5,375.3 382.4,365.9 386.0,360.0 393.0,360.0 398.9,350.6 407.1,351.8 420.0,351.1 424.2,363.7 426.8,363.7 430.0,351.6 434.7,347.4 441.1,345.8 447.4,347.9 452.6,345.8 456.8,337.9 459.5,339.5 461.6,349.5 465.3,350.5 471.6,357.9 477.9,354.2 481.1,353.7 484.2,346.8 487.9,350.5 492.6,347.4 495.8,325.8 498.4,324.7 503.2,327.4 507.4,336.3 511.6,337.4 516.8,338.9 519.9,338.4 520.0,338.4 525.3,340.5 532.6,336.8 535.3,326.3 537.4,318.9 541.1,322.6 546.3,323.2 550.5,326.8 554.2,328.4 557.9,341.0 562.1,342.6 566.3,343.7 570.5,345.3 574.7,351.6 577.9,325.8 583.2,325.3 589.5,325.3 595.8,327.4 598.9,318.9 603.2,310.5 606.3,315.8 609.5,320.5 612.6,316.8 615.0,310.9 621.7,312.1 628.4,311.8 635.2,313.4 640.2,316.8 647.0,319.3 652.0,324.4 657.0,348.7 662.0,355.5 668.0,362.2 673.8,360.5 679.7,363.9 682.2,377.3 686.4,382.4 692.3,368.9 702.4,364.7 709.1,354.6 715.0,356.3 716.5,356.5 721.2,348.2 730.6,347.1 735.4,351.8 741.2,356.5 753.0,355.3 756.5,357.6 762.4,356.5 765.9,357.6 768.3,354.1 771.8,381.2 776.5,380.0 790.0,379.1 803.0,379.1 805.6,383.0 810.8,397.3 813.3,450.0 814.1,472.1 816.0,463.8 818.0,465.8 820.8,467.8 823.9,471.3 826.7,473.7 830.3,470.1 833.4,472.1 835.8,470.5 838.1,473.7 841.3,474.9 843.7,473.7 845.3,488.7 848.0,485.9 851.6,489.5 855.5,487.1 860.2,487.5 864.2,486.3 868.1,487.9 872.8,487.9" fill="none" stroke="#9467bd" stroke-width="2" stroke-linejoin="round"/>
<polyline clip-path="url(#pc)" points="116.0,339.6 343.9,339.6 346.8,491.3 426.8,491.3 428.9,306.7 873.0,306.7" fill="none" stroke="#8c564b" stroke-width="2" stroke-linejoin="round"/>
<line x1="429.9" y1="306.9" x2="873" y2="306.9" stroke="#ad9288" stroke-width="1.7"/>
<g stroke="#000"><line x1="115.8" y1="306.0" x2="115.8" y2="492.0" stroke-width="1.5"/><line x1="115.1" y1="491.3" x2="875.7" y2="491.3" stroke-width="1.5"/>
<line x1="109.2" y1="491.30" x2="115.8" y2="491.30" stroke-width="1.2"/>
<line x1="111.5" y1="483.91" x2="115.8" y2="483.91" stroke-width="1.2"/>
<line x1="111.5" y1="476.52" x2="115.8" y2="476.52" stroke-width="1.2"/>
<line x1="111.5" y1="469.12" x2="115.8" y2="469.12" stroke-width="1.2"/>
<line x1="111.5" y1="461.73" x2="115.8" y2="461.73" stroke-width="1.2"/>
<line x1="109.2" y1="454.34" x2="115.8" y2="454.34" stroke-width="1.2"/>
<line x1="111.5" y1="446.95" x2="115.8" y2="446.95" stroke-width="1.2"/>
<line x1="111.5" y1="439.56" x2="115.8" y2="439.56" stroke-width="1.2"/>
<line x1="111.5" y1="432.16" x2="115.8" y2="432.16" stroke-width="1.2"/>
<line x1="111.5" y1="424.77" x2="115.8" y2="424.77" stroke-width="1.2"/>
<line x1="109.2" y1="417.38" x2="115.8" y2="417.38" stroke-width="1.2"/>
<line x1="111.5" y1="409.99" x2="115.8" y2="409.99" stroke-width="1.2"/>
<line x1="111.5" y1="402.60" x2="115.8" y2="402.60" stroke-width="1.2"/>
<line x1="111.5" y1="395.20" x2="115.8" y2="395.20" stroke-width="1.2"/>
<line x1="111.5" y1="387.81" x2="115.8" y2="387.81" stroke-width="1.2"/>
<line x1="109.2" y1="380.42" x2="115.8" y2="380.42" stroke-width="1.2"/>
<line x1="111.5" y1="373.03" x2="115.8" y2="373.03" stroke-width="1.2"/>
<line x1="111.5" y1="365.64" x2="115.8" y2="365.64" stroke-width="1.2"/>
<line x1="111.5" y1="358.24" x2="115.8" y2="358.24" stroke-width="1.2"/>
<line x1="111.5" y1="350.85" x2="115.8" y2="350.85" stroke-width="1.2"/>
<line x1="109.2" y1="343.46" x2="115.8" y2="343.46" stroke-width="1.2"/>
<line x1="111.5" y1="336.07" x2="115.8" y2="336.07" stroke-width="1.2"/>
<line x1="111.5" y1="328.68" x2="115.8" y2="328.68" stroke-width="1.2"/>
<line x1="111.5" y1="321.28" x2="115.8" y2="321.28" stroke-width="1.2"/>
<line x1="111.5" y1="313.89" x2="115.8" y2="313.89" stroke-width="1.2"/>
<line x1="109.2" y1="306.50" x2="115.8" y2="306.50" stroke-width="1.2"/>
<line x1="240.5" y1="491.3" x2="240.5" y2="497.3" stroke-width="1.2"/>
<line x1="368.0" y1="491.3" x2="368.0" y2="497.3" stroke-width="1.2"/>
<line x1="495.5" y1="491.3" x2="495.5" y2="497.3" stroke-width="1.2"/>
<line x1="623.0" y1="491.3" x2="623.0" y2="497.3" stroke-width="1.2"/>
<line x1="750.5" y1="491.3" x2="750.5" y2="497.3" stroke-width="1.2"/>
</g>
<text class="lb" x="101" y="310.1" font-size="11" fill="#444" text-anchor="end">1.000</text>
<text class="lb" x="104.2" y="347.1" font-size="11" fill="#444" text-anchor="end">800.00 m</text>
<text class="lb" x="104.2" y="384.0" font-size="11" fill="#444" text-anchor="end">600.00 m</text>
<text class="lb" x="104.2" y="421.0" font-size="11" fill="#444" text-anchor="end">400.00 m</text>
<text class="lb" x="104.2" y="457.9" font-size="11" fill="#444" text-anchor="end">200.00 m</text>
<text class="lb" x="104.2" y="494.9" font-size="11" fill="#444" text-anchor="end">0</text>
<text class="lb" x="240.5" y="510.7" font-size="11" fill="#444" text-anchor="middle">4h</text>
<text class="lb" x="368.0" y="510.7" font-size="11" fill="#444" text-anchor="middle">8h</text>
<text class="lb" x="495.5" y="510.7" font-size="11" fill="#444" text-anchor="middle">12h</text>
<text class="lb" x="623.0" y="510.7" font-size="11" fill="#444" text-anchor="middle">16h</text>
<text class="lb" x="750.5" y="510.7" font-size="11" fill="#444" text-anchor="middle">20h</text>
<text x="495.5" y="529.9" font-size="13" font-style="italic" fill="#444" text-anchor="middle">Date (UTC)</text>
<text transform="translate(48.5,400.3) rotate(-90)" font-size="13" font-style="italic" fill="#444" text-anchor="middle">Normalized CVD [arb. u.]</text>
<rect x="35.8" y="556.9" width="592.2" height="60" fill="none" stroke="#e8e8e8" stroke-width="1"/>
<line x1="45.5" y1="576.6" x2="65.5" y2="576.6" stroke="#1f77b4" stroke-width="2"/>
<text class="lg" x="71" y="579" font-size="10.7" fill="#444">all orders</text>
<line x1="117.3" y1="576.6" x2="137.3" y2="576.6" stroke="#ff7f0e" stroke-width="2"/>
<text class="lg" x="141.9" y="579" font-size="10.7" fill="#444">$100 &lt; i &lt; $1k</text>
<line x1="212.6" y1="576.6" x2="232.6" y2="576.6" stroke="#2ca02c" stroke-width="2"/>
<text class="lg" x="237.8" y="579" font-size="10.7" fill="#444">$1k &lt; i &lt; $10k</text>
<line x1="307.9" y1="576.6" x2="327.9" y2="576.6" stroke="#d62728" stroke-width="2"/>
<text class="lg" x="332.8" y="579" font-size="10.7" fill="#444">$10k &lt; i &lt; $100k</text>
<line x1="415" y1="576.6" x2="435" y2="576.6" stroke="#9467bd" stroke-width="2"/>
<text class="lg" x="439.5" y="579" font-size="10.7" fill="#444">$100k &lt; i &lt; $1M</text>
<line x1="519.3" y1="576.6" x2="539.3" y2="576.6" stroke="#8c564b" stroke-width="2"/>
<text class="lg" x="543.9" y="579" font-size="10.7" fill="#444">$1M &lt; i &lt; $10M</text>
</svg></body></html>
